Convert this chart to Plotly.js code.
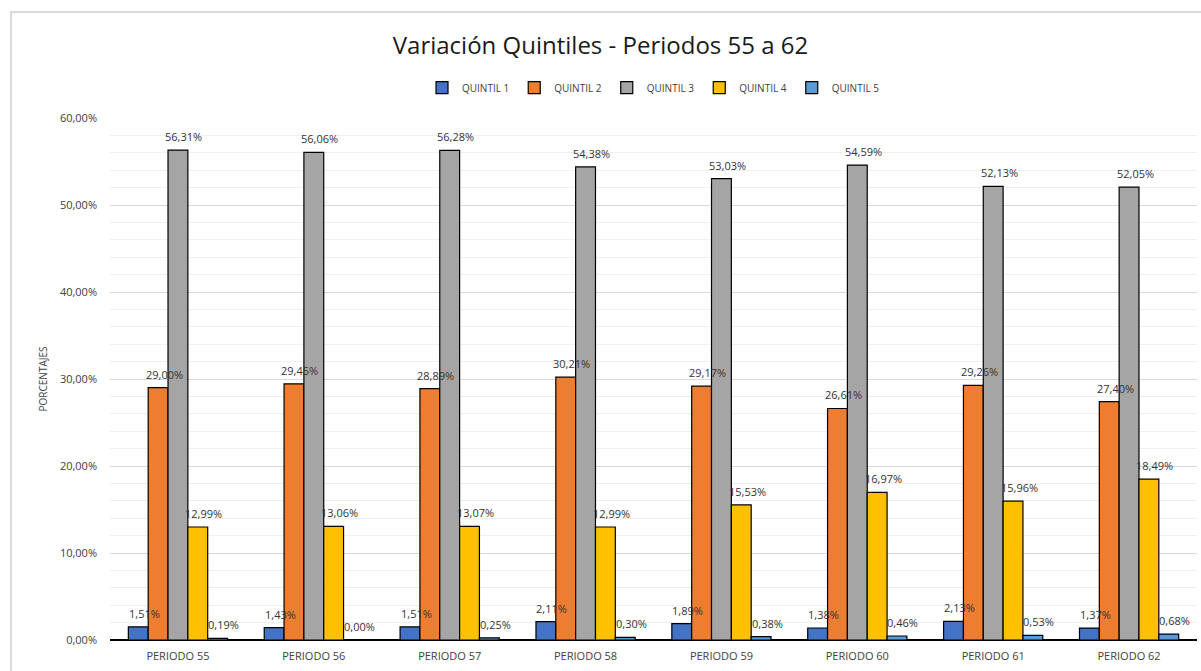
<!DOCTYPE html>
<html>
<head>
<meta charset="utf-8">
<script src="https://cdn.plot.ly/plotly-3.0.1.min.js"></script>
<style>html,body{margin:0;padding:0;background:#fff;}#chart{width:1201px;height:671px;}</style>
</head>
<body>
<div id="chart"></div>
<script>
const categories = ["PERIODO 55","PERIODO 56","PERIODO 57","PERIODO 58","PERIODO 59","PERIODO 60","PERIODO 61","PERIODO 62"];
const seriesNames = ["QUINTIL 1","QUINTIL 2","QUINTIL 3","QUINTIL 4","QUINTIL 5"];
const quintil1 = [1.51, 1.43, 1.51, 2.11, 1.89, 1.38, 2.13, 1.37];
const quintil2 = [29.00, 29.45, 28.89, 30.21, 29.17, 26.61, 29.26, 27.40];
const quintil3 = [56.31, 56.06, 56.28, 54.38, 53.03, 54.59, 52.13, 52.05];
const quintil4 = [12.99, 13.06, 13.07, 12.99, 15.53, 16.97, 15.96, 18.49];
const quintil5 = [0.19, 0.00, 0.25, 0.30, 0.38, 0.46, 0.53, 0.68];
const colors = ["#4472C4","#ED7D31","#A5A5A5","#FFC000","#5B9BD5"];
const values = [quintil1, quintil2, quintil3, quintil4, quintil5];

const traces = values.map((v, i) => ({
  type: 'bar',
  name: seriesNames[i],
  x: categories,
  y: v,
  marker: {color: colors[i], line: {color: '#000000', width: 1.2}},
  hoverinfo: 'x+y+name'
}));

// data labels as annotations so they draw above all bars
const plotW = 1201 - 110 - 4;
const bargap = 0.27;
const barW = plotW / categories.length * (1 - bargap) / values.length;
const fmt = v => v.toFixed(2).replace('.', ',') + '%';
const annotations = [];
values.forEach((v, i) => {
  v.forEach((val, j) => {
    annotations.push({
      x: categories[j], y: val, xref: 'x', yref: 'y',
      text: fmt(val), showarrow: false,
      xanchor: 'center', yanchor: 'bottom',
      xshift: (i - 2) * barW + 6, yshift: 4,
      font: {family: 'Open Sans, sans-serif', size: 11, color: '#333333'}
    });
  });
});

const layout = {
  width: 1201, height: 671,
  margin: {l: 110, r: 4, t: 118, b: 31},
  paper_bgcolor: '#ffffff', plot_bgcolor: '#ffffff',
  separators: ',.',
  barmode: 'group',
  bargap: bargap,
  bargroupgap: 0,
  title: {text: 'Variación Quintiles - Periodos 55 a 62', x: 0.5, xanchor: 'center', y: 0.932, yanchor: 'middle',
          font: {family: 'Open Sans, sans-serif', size: 24, color: '#1a1a1a'}},
  legend: {orientation: 'h', x: 0.5, xanchor: 'center', y: 1.058, yanchor: 'middle',
           font: {family: 'Open Sans, sans-serif', size: 10, color: '#404040'},
           itemwidth: 30, traceorder: 'normal', tracegroupgap: 0},
  xaxis: {
    type: 'category',
    tickfont: {family: 'Open Sans, sans-serif', size: 11, color: '#404040'},
    ticklabelstandoff: 8,
    showline: false, ticks: '', showgrid: false, zeroline: false
  },
  yaxis: {
    range: [0, 60],
    dtick: 10,
    tickformat: '.2f', ticksuffix: '%',
    tickfont: {family: 'Open Sans, sans-serif', size: 11, color: '#404040'},
    ticklabelstandoff: 12,
    showgrid: true, gridcolor: '#d9d9d9', gridwidth: 1,
    minor: {dtick: 2, showgrid: true, gridcolor: '#efefef', gridwidth: 1},
    zeroline: true, zerolinecolor: '#000000', zerolinewidth: 1.2,
    showline: false, ticks: '',
    title: {text: 'PORCENTAJES', font: {family: 'Open Sans, sans-serif', size: 10, color: '#404040'}, standoff: 10}
  },
  annotations: annotations,
  shapes: [{
    type: 'rect', xref: 'paper', yref: 'paper',
    x0: -0.091, x1: 1.2, y0: -0.3, y1: 1.203,
    line: {color: '#d9d9d9', width: 2}, fillcolor: 'rgba(0,0,0,0)', layer: 'below'
  }]
};

Plotly.newPlot('chart', traces, layout, {displayModeBar: false, staticPlot: true});
</script>
</body>
</html>
